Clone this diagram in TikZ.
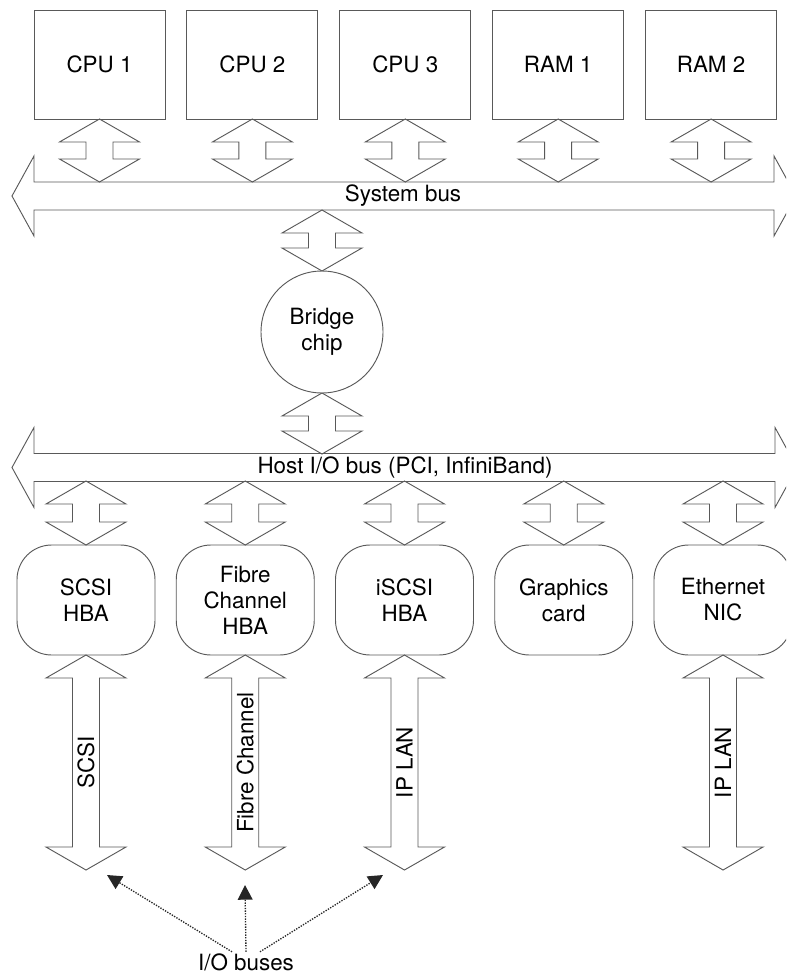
\documentclass[tikz,border=0pt]{standalone}
\usepackage{fontspec}
\setmainfont{TeX Gyre Heros}
\usepackage{tikz}
\usetikzlibrary{calc,arrows.meta}

\newcommand{\diafont}{\fontsize{16.8}{19.5}\selectfont}

\tikzset{
  blockline/.style={draw=black!65,line width=0.7pt,line join=miter},
  unitbox/.style={blockline,minimum width=98.25pt,minimum height=81.75pt,inner sep=0pt,outer sep=0pt},
  hbabox/.style={blockline,rounded corners=26pt,minimum width=103.5pt,minimum height=82.5pt,align=center,inner sep=0pt,outer sep=0pt},
  chip/.style={blockline,circle,minimum size=91.5pt,align=center,inner sep=0pt,outer sep=0pt},
  lbl/.style={inner sep=1pt},
  dotarrow/.style={densely dotted,line width=1pt,draw=black!85,-{Triangle[length=11pt,width=11pt]}}
}

% vertical block arrow with two heads, from #1 (top tip) to #2 (bottom tip)
\newcommand{\dblarrow}[2]{%
  \draw[blockline] (#1) -- ++(40,23) -- ++(-26.5,0) -- ($(#2)+(13.5,-23)$) -- ++(26.5,0) -- (#2)
    -- ++(-40,-23) -- ++(26.5,0) -- ($(#1)+(-13.5,23)$) -- ++(-26.5,0) -- cycle;}
% horizontal bus, from #1 (left tip) to #2 (right tip)
\newcommand{\busarrow}[2]{%
  \draw[blockline] (#1) -- ++(22,-40) -- ++(0,26) -- ($(#2)+(-22,-14)$) -- ++(0,-26) -- (#2)
    -- ++(-22,40) -- ++(0,-26) -- ($(#1)+(22,14)$) -- ++(0,26) -- cycle;}

\begin{document}
\begin{tikzpicture}[x=0.75pt,y=-0.75pt,font=\diafont]
\useasboundingbox (0,0) rectangle (786,974);
\clip (0,0) rectangle (786,974);

\foreach \nm/\txt [count=\i from 0] in {cpu1/CPU 1,cpu2/CPU 2,cpu3/CPU 3,ram1/RAM 1,ram2/RAM 2}
  \node[unitbox] (\nm) at (99.5+152.9*\i,64.5) {\txt};

\coordinate (sysL) at (12,196);
\coordinate (sysR) at (796,196);
\coordinate (systop) at (0,182);
\coordinate (sysbot) at (0,210);
\busarrow{sysL}{sysR}
\node[lbl] (sysbus) at (403,196) {System bus};

\foreach \nm in {cpu1,cpu2,cpu3,ram1,ram2} {
  \coordinate (\nm-s) at (\nm.south |- systop);
  \dblarrow{\nm.south}{\nm-s}
}

\node[chip] (bridge) at (322,332) {Bridge\\chip};

\coordinate (hostL) at (12,467.5);
\coordinate (hostR) at (797,467.5);
\coordinate (hosttop) at (0,454);
\coordinate (hostbot) at (0,481);
\busarrow{hostL}{hostR}
\node[lbl] (hostbus) at (405,467.5) {Host I/O bus (PCI, InfiniBand)};

\coordinate (br-t) at (bridge.north |- sysbot);
\dblarrow{br-t}{bridge.north}
\coordinate (br-b) at (bridge.south |- hosttop);
\dblarrow{bridge.south}{br-b}

\foreach \nm/\txt [count=\i from 0] in {scsi/SCSI\\HBA,fc/Fibre\\Channel\\HBA,iscsi/iSCSI\\HBA,gfx/Graphics\\card,eth/Ethernet\\NIC}
  \node[hbabox] (\nm) at (86+159.25*\i,600) {\txt};

\foreach \nm in {scsi,fc,iscsi,gfx,eth} {
  \coordinate (\nm-h) at (\nm.north |- hostbot);
  \dblarrow{\nm-h}{\nm.north}
}

\foreach \nm/\txt in {scsi/SCSI,fc/Fibre Channel,iscsi/IP LAN,eth/IP LAN} {
  \coordinate (\nm-e) at ($(\nm.south)+(0,215)$);
  \dblarrow{\nm.south}{\nm-e}
  \node[lbl,rotate=90] (\nm-lbl) at ($(\nm.south)!0.5!(\nm-e)$) {\txt};
}

\node[lbl] (iobus) at (246,962) {I/O buses};
\coordinate (ptL) at (107,875);
\coordinate (ptM) at (245,885);
\coordinate (ptR) at (383,875);
\draw[dotarrow] ([xshift=-10.5pt]iobus.north) -- (ptL);
\draw[dotarrow] (iobus.north) -- (ptM);
\draw[dotarrow] ([xshift=10.5pt]iobus.north) -- (ptR);
\end{tikzpicture}
\end{document}
